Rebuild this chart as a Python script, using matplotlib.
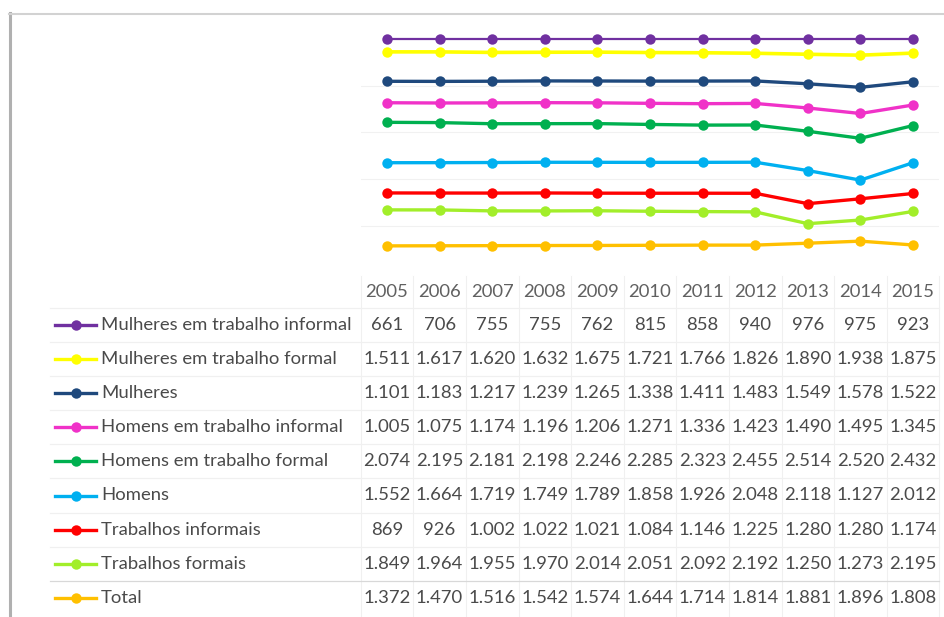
import numpy as np
import matplotlib
matplotlib.use("Agg")
import matplotlib.pyplot as plt
from matplotlib.lines import Line2D

plt.rcParams["font.family"] = ["Lato", "DejaVu Sans"]

# ---- data -------------------------------------------------------------
years = ["2005", "2006", "2007", "2008", "2009", "2010",
         "2011", "2012", "2013", "2014", "2015"]

mulheres_informal = [661, 706, 755, 755, 762, 815, 858, 940, 976, 975, 923]
mulheres_formal = [1511, 1617, 1620, 1632, 1675, 1721, 1766, 1826, 1890, 1938, 1875]
mulheres = [1101, 1183, 1217, 1239, 1265, 1338, 1411, 1483, 1549, 1578, 1522]
homens_informal = [1005, 1075, 1174, 1196, 1206, 1271, 1336, 1423, 1490, 1495, 1345]
homens_formal = [2074, 2195, 2181, 2198, 2246, 2285, 2323, 2455, 2514, 2520, 2432]
homens = [1552, 1664, 1719, 1749, 1789, 1858, 1926, 2048, 2118, 1127, 2012]
trabalhos_informais = [869, 926, 1002, 1022, 1021, 1084, 1146, 1225, 1280, 1280, 1174]
trabalhos_formais = [1849, 1964, 1955, 1970, 2014, 2051, 2092, 2192, 1250, 1273, 2195]
total = [1372, 1470, 1516, 1542, 1574, 1644, 1714, 1814, 1881, 1896, 1808]

# table order (top to bottom)
labels = ["Mulheres em trabalho informal", "Mulheres em trabalho formal",
          "Mulheres", "Homens em trabalho informal", "Homens em trabalho formal",
          "Homens", "Trabalhos informais", "Trabalhos formais", "Total"]
values = [mulheres_informal, mulheres_formal, mulheres, homens_informal,
          homens_formal, homens, trabalhos_informais, trabalhos_formais, total]
colors = ["#7030A0", "#FFFF00", "#1F497D", "#F032C8", "#00B050",
          "#00B0F0", "#FF0000", "#A2EE2A", "#FFC000"]
widths = [1.6, 2.6, 2.4, 2.4, 2.4, 2.4, 2.4, 2.4, 2.4]

# ---- figure ---------------------------------------------------------------
W, H = 944, 617
fig = plt.figure(figsize=(W / 100, H / 100), dpi=100)


def fx(x):
    return x / W


def fy(y):
    return 1 - y / H


# 100% stacked lines: bottom series is "Total", top is "Mulheres em trabalho informal"
zero_px, full_px = 272.6, 39.0
scale = zero_px - full_px


def val(ypx):
    return (zero_px - ypx) / scale


ax_left, ax_right, ax_top, ax_bottom = 360.7, 939.3, 25, 280
ax = fig.add_axes([fx(ax_left), fy(ax_bottom),
                   (ax_right - ax_left) / W, (ax_bottom - ax_top) / H])
ax.set_xlim(-0.5, len(years) - 0.5)
ax.set_ylim(val(ax_bottom), val(ax_top))
ax.axis("off")

for g in [0.2, 0.4, 0.6, 0.8]:
    ax.axhline(g, color="#f1f1f1", lw=0.8, zorder=0)

data = np.array(values, dtype=float)
stack = data[::-1]                      # bottom-up order
shares = np.cumsum(stack, axis=0) / stack.sum(axis=0)
x = np.arange(len(years))
for i, (c, lw) in enumerate(zip(colors[::-1], widths[::-1])):
    ax.plot(x, shares[i], color=c, lw=lw, marker="o", markersize=7.5,
            markeredgewidth=0, solid_joinstyle="round", clip_on=False,
            zorder=3 + i)

# ---- data table -------------------------------------------------------------
col_w = (ax_right - ax_left) / len(years)
col_centers = [ax_left + col_w * (i + 0.5) for i in range(len(years))]
header_y = 292
row_y0, row_h = 325, 34.1
text_color = "#4a4a4a"
fs = 13.3

line_color = "#f0f0f0"
# column separators
for i in range(len(years) + 1):
    xx = ax_left + col_w * i
    fig.add_artist(Line2D([fx(xx), fx(xx)], [fy(276), fy(H)],
                          transform=fig.transFigure, color=line_color, lw=0.8))
# row separators
for r in range(len(labels)):
    yy = row_y0 - row_h / 2 + r * row_h
    fig.add_artist(Line2D([fx(50), fx(ax_right)], [fy(yy), fy(yy)],
                          transform=fig.transFigure,
                          color="#d8d8d8" if r == len(labels) - 1 else line_color,
                          lw=0.9))

for xc, yr in zip(col_centers, years):
    fig.text(fx(xc), fy(header_y), yr, ha="center", va="center",
             fontsize=fs, color="#606060")

for r, (lab, vals, c) in enumerate(zip(labels, values, colors)):
    yy = row_y0 + r * row_h
    fig.add_artist(Line2D([fx(55), fx(96)], [fy(yy), fy(yy)],
                          transform=fig.transFigure, color=c, lw=2.4))
    fig.add_artist(Line2D([fx(75.5)], [fy(yy)], transform=fig.transFigure,
                          color=c, marker="o", markersize=7.5, markeredgewidth=0))
    fig.text(fx(101), fy(yy), lab, ha="left", va="center",
             fontsize=fs, color=text_color)
    for xc, v in zip(col_centers, vals):
        fig.text(fx(xc), fy(yy), f"{v:,}".replace(",", "."), ha="center",
                 va="center", fontsize=fs, color=text_color)

# chart frame
fig.add_artist(Line2D([fx(9.5), fx(9.5)], [fy(13), fy(H)],
                      transform=fig.transFigure, color="#b0b0b0", lw=2.2))
fig.add_artist(Line2D([fx(9), fx(W)], [fy(13.5), fy(13.5)],
                      transform=fig.transFigure, color="#d2d2d2", lw=1.5))

fig.savefig("out.png", dpi=100, facecolor="white")
